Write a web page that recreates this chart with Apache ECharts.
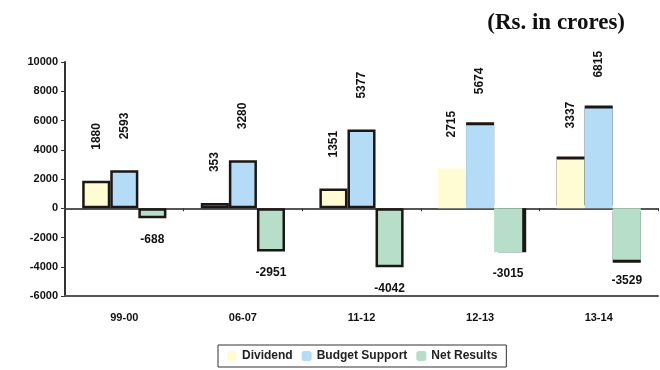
<!DOCTYPE html>
<html>
<head>
<meta charset="utf-8">
<script src="https://cdn.jsdelivr.net/npm/echarts@6/dist/echarts.min.js"></script>
<style>
  html, body { margin: 0; padding: 0; background: #fff; }
  #chart { width: 660px; height: 370px; }
</style>
</head>
<body>
<div id="chart"></div>
<script>
// Years shown along the category axis
const years = ['99-00', '06-07', '11-12', '12-13', '13-14'];

// Series values (Rs. in crores)
const dividend = [1880, 353, 1351, 2715, 3337];
const budgetSupport = [2593, 3280, 5377, 5674, 6815];
const netResults = [-688, -2951, -4042, -3015, -3529];

// Value axis ticks
const yTicks = [-6000, -4000, -2000, 0, 2000, 4000, 6000, 8000, 10000];

const seriesNames = ['Dividend', 'Budget Support', 'Net Results'];
const colors = ['#fffbd2', '#b4dcf6', '#b6dec9'];
const FONT = 'Liberation Sans, Arial, sans-serif';

// Dark edge styling per bar (thick outlined bars in the early years, caps later)
function edge(i, kind) {
  if (i < 3) {
    return { borderColor: '#1b1714', borderWidth: 2.5 };
  }
  if (kind === 'neg') {
    return i === 3
      ? { shadowColor: '#1b1714', shadowBlur: 0, shadowOffsetX: 4 }
      : { shadowColor: '#1b1714', shadowBlur: 0, shadowOffsetY: 3 };
  }
  if (kind === 'div' && i === 3) return {};
  return { shadowColor: '#1b1714', shadowBlur: 0, shadowOffsetY: -3 };
}

function posLabel() {
  return {
    show: true,
    position: 'top',
    distance: 31,
    rotate: 90,
    align: 'left',
    verticalAlign: 'middle',
    color: '#111',
    fontFamily: FONT,
    fontWeight: 'bold',
    fontSize: 12,
    formatter: p => String(p.value)
  };
}

const chart = echarts.init(document.getElementById('chart'), null, { renderer: 'canvas' });

const option = {
  animation: false,
  backgroundColor: '#ffffff',
  title: {
    text: '(Rs. in crores)',
    right: 30,
    top: 7,
    textStyle: {
      fontFamily: 'Liberation Serif, Times New Roman, serif',
      fontWeight: 'bold',
      fontSize: 23,
      color: '#111'
    }
  },
  legend: {
    data: seriesNames,
    bottom: 3,
    left: 218,
    itemWidth: 10,
    itemHeight: 10,
    itemGap: 9,
    padding: [5, 9],
    borderColor: '#333',
    borderWidth: 1,
    textStyle: {
      fontFamily: FONT,
      fontSize: 12,
      fontWeight: 'bold',
      color: '#222'
    }
  },
  grid: { left: 65, right: 2, top: 62, bottom: 74 },
  xAxis: [
    {
      type: 'category',
      data: years,
      axisLine: { onZero: false, lineStyle: { color: '#555', width: 2 } },
      axisTick: { show: false },
      axisLabel: {
        margin: 16,
        color: '#111',
        fontFamily: FONT,
        fontWeight: 'bold',
        fontSize: 11
      }
    },
    {
      type: 'category',
      data: years,
      position: 'bottom',
      axisLine: { onZero: true, lineStyle: { color: '#555', width: 2 } },
      axisTick: { show: true, length: 3, lineStyle: { color: '#333', width: 1 } },
      axisLabel: { show: false }
    }
  ],
  yAxis: {
    type: 'value',
    min: yTicks[0],
    max: yTicks[yTicks.length - 1],
    interval: 2000,
    axisLine: { show: true, lineStyle: { color: '#333', width: 2 } },
    axisTick: { show: true, length: 4, lineStyle: { color: '#333' } },
    splitLine: { show: false },
    axisLabel: {
      margin: 7,
      color: '#111',
      fontFamily: FONT,
      fontWeight: 'bold',
      fontSize: 11,
      formatter: v => String(v)
    }
  },
  series: [
    {
      name: seriesNames[0],
      type: 'bar',
      xAxisIndex: 0,
      barGap: '0%',
      barCategoryGap: '29%',
      itemStyle: { color: colors[0] },
      data: dividend.map((v, i) => ({ value: v, itemStyle: edge(i, 'div') })),
      label: posLabel()
    },
    {
      name: seriesNames[1],
      type: 'bar',
      xAxisIndex: 0,
      barGap: '0%',
      barCategoryGap: '29%',
      itemStyle: { color: colors[1] },
      data: budgetSupport.map((v, i) => ({ value: v, itemStyle: edge(i, 'bud') })),
      label: posLabel()
    },
    {
      name: seriesNames[2],
      type: 'bar',
      xAxisIndex: 0,
      barGap: '0%',
      barCategoryGap: '29%',
      itemStyle: { color: colors[2] },
      data: netResults.map((v, i) => ({ value: v, itemStyle: edge(i, 'neg') })),
      label: {
        show: true,
        position: 'bottom',
        distance: 15,
        color: '#111',
        fontFamily: FONT,
        fontWeight: 'bold',
        fontSize: 12,
        formatter: p => String(p.value)
      }
    }
  ]
};

chart.setOption(option);
</script>
</body>
</html>
